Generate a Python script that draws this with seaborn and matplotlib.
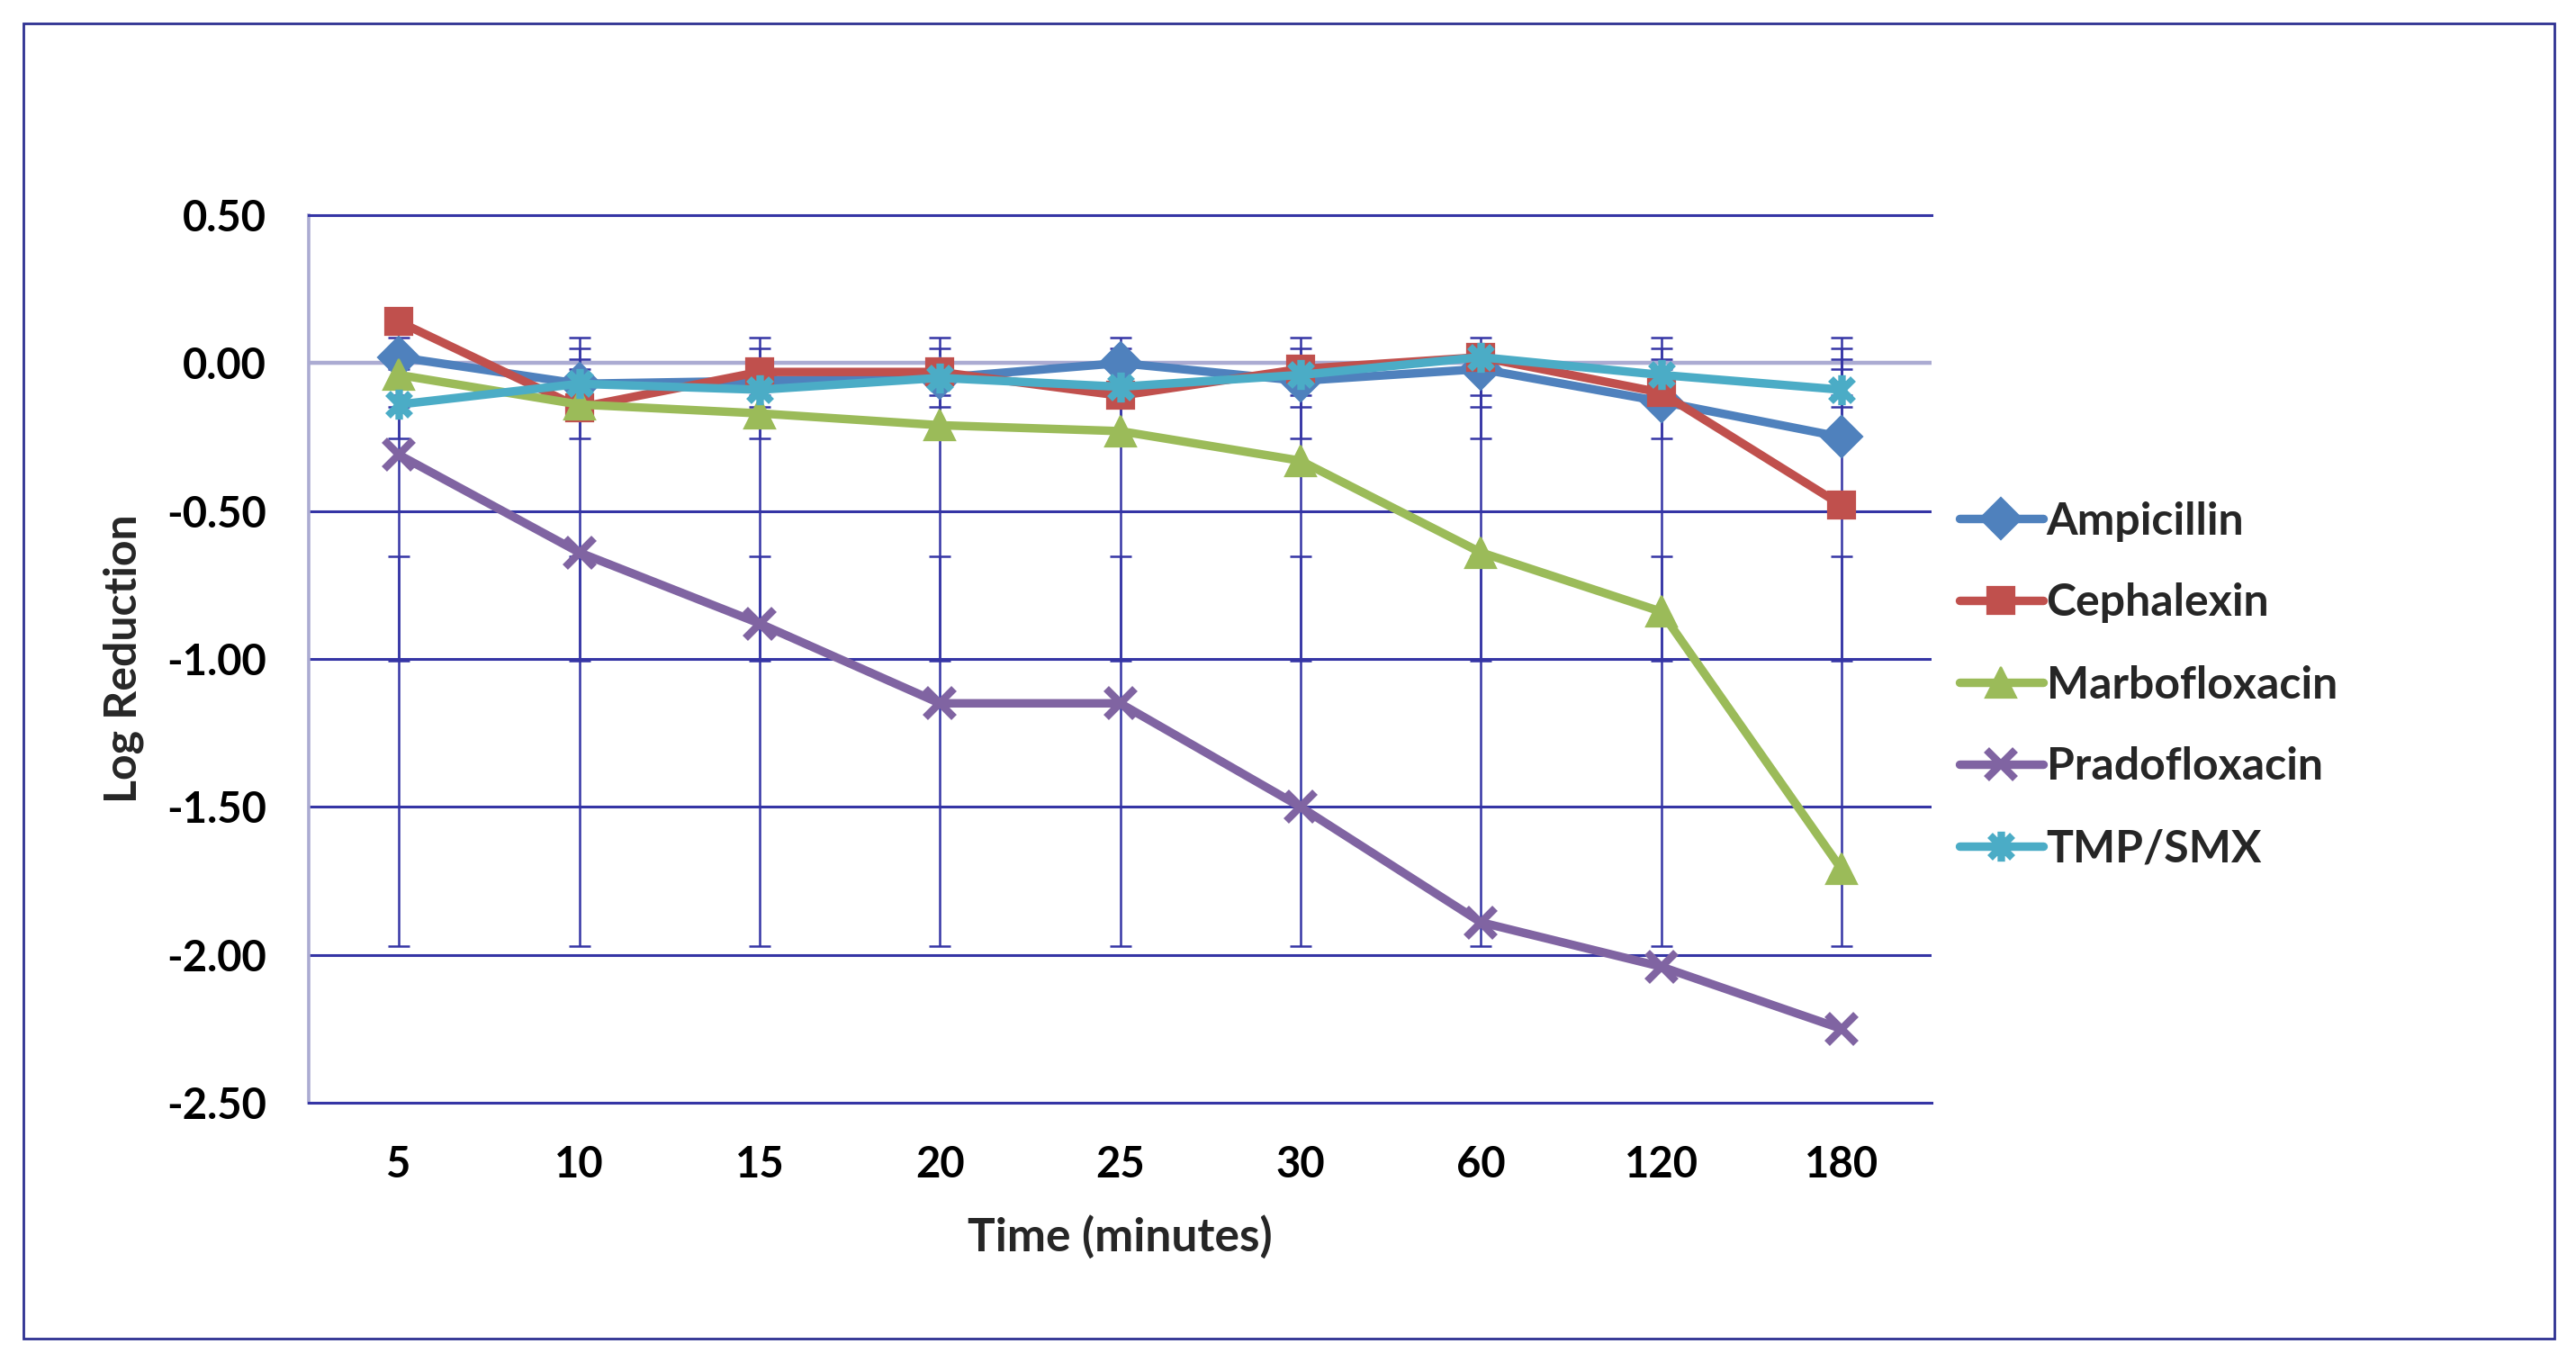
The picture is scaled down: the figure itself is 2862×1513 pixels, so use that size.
import numpy as np
import pandas as pd
import matplotlib
matplotlib.use("Agg")
import matplotlib.pyplot as plt
import seaborn as sns
from matplotlib.path import Path
from matplotlib.patches import Rectangle

# ---- data ----
times = ["5", "10", "15", "20", "25", "30", "60", "120", "180"]
ampicillin = [0.02, -0.07, -0.06, -0.05, 0.00, -0.06, -0.02, -0.13, -0.25]
cephalexin = [0.14, -0.15, -0.03, -0.03, -0.11, -0.02, 0.02, -0.10, -0.48]
marbofloxacin = [-0.04, -0.14, -0.17, -0.21, -0.23, -0.33, -0.64, -0.84, -1.71]
pradofloxacin = [-0.31, -0.64, -0.88, -1.15, -1.15, -1.50, -1.89, -2.04, -2.25]
tmp_smx = [-0.14, -0.07, -0.09, -0.05, -0.08, -0.04, 0.02, -0.04, -0.09]
series_names = ["Ampicillin", "Cephalexin", "Marbofloxacin", "Pradofloxacin", "TMP/SMX"]
y_ticks = [0.5, 0.0, -0.5, -1.0, -1.5, -2.0, -2.5]

series_values = [ampicillin, cephalexin, marbofloxacin, pradofloxacin, tmp_smx]

# ---- styles ----
colors = ["#4F81BD", "#C0504D", "#9BBB59", "#8064A2", "#4BACC6"]
star = Path([(0, -1), (0, 1), (-0.75, -0.75), (0.75, 0.75), (-0.75, 0.75), (0.75, -0.75)],
            [Path.MOVETO, Path.LINETO, Path.MOVETO, Path.LINETO, Path.MOVETO, Path.LINETO])
markers = ["D", "s", "^", "x", star]
msizes = [11.5, 10.5, 12, 11.5, 12]
navy = "#3535A5"
light = "#ABABD2"

sns.set_theme(style="white")
plt.rcParams["font.family"] = ["Lato", "DejaVu Sans"]
plt.rcParams["font.weight"] = "bold"

W, H, DPI = 2862, 1513, 200
fig = plt.figure(figsize=(W / DPI, H / DPI), dpi=DPI)
ax = fig.add_axes([343 / W, 1 - 1225 / H, (2146 - 343) / W, (1225 - 239) / H])

df = pd.DataFrame({"Time": times * len(series_names),
                   "Drug": np.repeat(series_names, len(times)),
                   "Value": np.concatenate(series_values)})

# Excel-style standard deviation error bars (series mean +/- SD, at every category)
for vals in series_values:
    v = np.asarray(vals)
    m, sd = v.mean(), v.std(ddof=1)
    ax.errorbar(times, [m] * len(times), yerr=sd, fmt="none", ecolor=navy,
                elinewidth=0.9, capsize=4.2, capthick=0.9, zorder=1.5)

for name, col, mk, ms in zip(series_names, colors, markers, msizes):
    sub = df[df["Drug"] == name]
    lined = mk in ("x",) or isinstance(mk, Path)
    sns.lineplot(data=sub, x="Time", y="Value", sort=False, ax=ax, color=col,
                 linewidth=3.4, marker=mk, markersize=ms,
                 markeredgecolor=col, markerfacecolor=col,
                 markeredgewidth=3.0 if lined else 0.8,
                 label=name, zorder=3)

ax.set_xlim(-0.5, len(times) - 0.5)
ax.set_ylim(-2.5, 0.5)
ax.set_yticks(y_ticks)
ax.set_yticklabels([f"{t:.2f}" for t in y_ticks])
ax.yaxis.grid(True, color=navy, linewidth=1.1)
ax.xaxis.grid(False)
ax.set_axisbelow(True)
ax.axhline(0, color=light, linewidth=1.6, zorder=1.2)

ax.spines["right"].set_visible(False)
ax.spines["left"].set_color(light)
ax.spines["left"].set_linewidth(1.3)
for s in ["top", "bottom"]:
    ax.spines[s].set_color(navy)
    ax.spines[s].set_linewidth(1.1)

ax.tick_params(axis="both", length=0, labelsize=17, colors="black")
ax.tick_params(axis="x", pad=17)
ax.tick_params(axis="y", pad=17)
for lab in ax.get_xticklabels() + ax.get_yticklabels():
    lab.set_fontweight("bold")

ax.set_xlabel("Time (minutes)", fontsize=18.5, fontweight="bold")
ax.xaxis.set_label_coords(0.5, -149 / 986)
ax.xaxis.label.set_va("center")
ax.set_ylabel("Log Reduction", fontsize=18, fontweight="bold")
ax.yaxis.set_label_coords(-206 / 1803, 0.5)
ax.yaxis.label.set_va("center")

ax.legend(loc="center left", bbox_to_anchor=(2177 / W, 1 - 761 / H),
          bbox_transform=fig.transFigure, frameon=False,
          handlelength=1.85, handletextpad=0.08, labelspacing=0.92,
          borderpad=0, borderaxespad=0,
          prop={"weight": "bold", "size": 18})

fig.add_artist(Rectangle((26 / W, 26 / H), (2838 - 26) / W, (1487 - 26) / H,
                         transform=fig.transFigure, fill=False,
                         edgecolor="#2E3192", linewidth=1.0))

fig.savefig("out.png", dpi=DPI, facecolor="white")
